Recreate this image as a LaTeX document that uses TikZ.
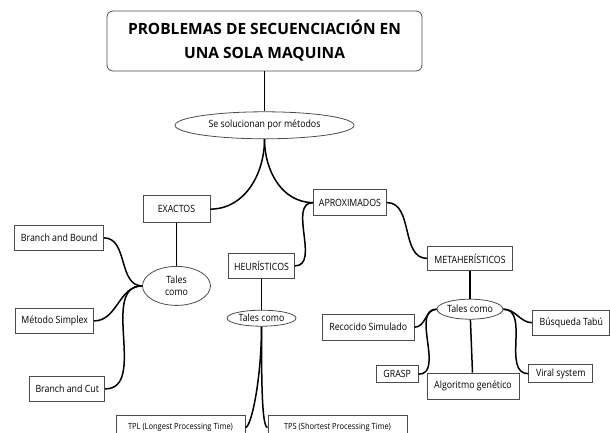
\documentclass[tikz,border=0pt]{standalone}
\usepackage{fontspec}
\setmainfont{Open Sans}
\newfontfamily\estrecha[FakeStretch=0.88]{Open Sans}
\usepackage{tikz}
\usetikzlibrary{positioning,shapes}

\tikzset{
	caja/.style={draw=black!70, line width=0.8pt, inner sep=2pt, minimum height=25pt, font=\estrecha\fontsize{10}{11}\selectfont},
	nube/.style={draw=black!70, line width=0.8pt, ellipse, inner sep=0pt, font=\estrecha\fontsize{10}{12}\selectfont, align=center},
	linea/.style={line width=1.5pt}
}

\begin{document}
\begin{tikzpicture}
\useasboundingbox (0,0) rectangle (610pt,-433pt);
\node[draw=black!70, line width=0.8pt, rounded corners=6pt, minimum width=315pt, minimum height=60pt, align=center, font=\bfseries\fontsize{15.5}{24}\selectfont](1) at (264.5pt,-41pt){PROBLEMAS DE SECUENCIACIÓN EN\\UNA SOLA MAQUINA};
\node[nube, minimum width=179pt, minimum height=27pt](2)[below = 40pt of 1]{Se solucionan por métodos};
\node[caja, minimum width=67pt, minimum height=27pt](3)[below = 56pt of 2, xshift=-88pt]{EXACTOS};
\node[caja, minimum width=73pt, minimum height=26pt](4)[below = 50pt of 2, xshift=85.5pt]{APROXIMADOS};
\node[nube, minimum width=68pt, minimum height=39pt](5)[below = 43pt of 3]{Tales\\como};
\node[caja, minimum width=89pt](6)[left = 38pt of 5, yshift=48pt]{Branch and Bound};
\node[caja, minimum width=78pt](7)[left = 48pt of 5, yshift=-35pt]{Método Simplex};
\node[caja, minimum width=75pt](8)[left = 37pt of 5, yshift=-103pt]{Branch and Cut};
\node[caja, minimum width=66pt](9)[below = 37pt of 4, xshift=-88.5pt]{HEURÍSTICOS};
\node[nube, minimum width=69pt, minimum height=16pt](10)[below = 31pt of 9]{Tales como};
\node[caja, minimum width=129pt, font=\estrecha\fontsize{8.5}{9}\selectfont](11)[below = 88pt of 10, xshift=-81pt]{TPL (Longest Processing Time)};
\node[caja, minimum width=139pt, font=\estrecha\fontsize{8.5}{9}\selectfont](12)[below = 88pt of 10, xshift=76pt]{TPS (Shortest Processing Time)};
\node[caja, minimum width=85pt, minimum height=24pt](13)[below = 30pt of 4, xshift=120pt]{METAHERÍSTICOS};
\node[nube, minimum width=66pt, minimum height=20pt](14)[below = 28pt of 13]{Tales como};
\node[caja, minimum width=92pt, minimum height=26pt](15)[left = 22pt of 14, yshift=-18pt]{Recocido Simulado};
\node[caja, minimum width=77pt](16)[right = 29pt of 14, yshift=-13.5pt]{Búsqueda Tabú};
\node[caja, minimum width=42pt, minimum height=17pt](17)[left = 18pt of 14, yshift=-65pt]{GRASP};
\node[caja, minimum width=92pt, minimum height=26pt](18)[below = 53pt of 14, xshift=3pt]{Algoritmo genético};
\node[caja, minimum width=64pt, minimum height=18pt](19)[right = 25pt of 14, yshift=-64.5pt]{Viral system};

\path[linea]
	(1) edge (2)
	(2.south) edge [out=-90, in=0] (3.east)
	(2.south) edge [out=-90, in=180] (4.west)
	(3) edge (5)
	(5.west) edge [out=180, in=0] (6.east)
	(5.west) edge [out=180, in=0] (7.east)
	(5.west) edge [out=180, in=0] (8.east)
	(9.east) edge [out=0, in=180] (4.west)
	(4.east) edge [out=0, in=180] (13.west)
	(9) edge (10)
	(10.south) edge [out=-90, in=0, out looseness=1.3, in looseness=0.15] (11.east)
	(10.south) edge [out=-90, in=180, out looseness=1.3, in looseness=0.15] (12.west)
	(13) edge (14)
	(14.west) edge [out=180, in=0] (15.east)
	(14.west) edge [out=180, in=0] (17.east)
	(14) edge (18)
	(14.east) edge [out=0, in=180] (16.west)
	(14.east) edge [out=0, in=180] (19.west);
\end{tikzpicture}
\end{document}
